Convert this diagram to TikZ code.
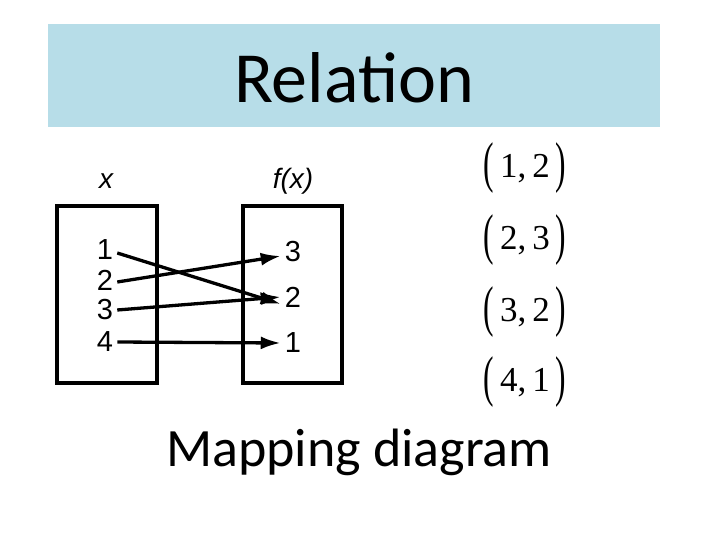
\documentclass[tikz,border=0pt]{standalone}
\usepackage{fontspec}
\usepackage{graphicx}
\setmainfont{Carlito}
\newfontfamily\pairfont{Liberation Serif}
\newfontfamily\mapfont{Liberation Sans}
\usetikzlibrary{arrows.meta}
\definecolor{headblue}{RGB}{183,221,232}
\newcommand{\bigpar}[1]{\raisebox{-3.5pt}{\scalebox{0.9}[1.6]{#1}}}
\newcommand{\pairtext}[2]{\bigpar{(}\,#1,\,#2\,\bigpar{)}}
\tikzset{
  setbox/.style={draw, line width=4pt},
  num/.style={font=\mapfont\fontsize{29}{29}\selectfont, inner sep=4pt},
  maparrow/.style={line width=3.3pt, -{Latex[length=20pt,width=13pt]}},
}
\begin{document}
\begin{tikzpicture}[x=1pt, y=-1pt]
    \useasboundingbox (0,0) rectangle (720,540);
    % Title bar
    \fill[headblue] (48,24) rectangle (660,127);
    \node[font=\fontsize{72}{72}\selectfont] (title) at (354,78) {Relation};

    % Left: the two sets
    \draw[setbox] (57,206) rectangle (157,383);
    \draw[setbox] (243,206) rectangle (342,383);
    \node[font=\mapfont\itshape\fontsize{28}{28}\selectfont] (xlab) at (106,181) {x};
    \node[font=\mapfont\itshape\fontsize{28}{28}\selectfont] (fxlab) at (293,181) {f(x)};
    \foreach \n/\y in {1/250, 2/280, 3/310, 4/342} {
        \node[num] (l\n) at (105,\y) {\n};
    }
    \foreach \n/\y in {3/252, 2/297, 1/343} {
        \node[num] (r\n) at (293,\y) {\n};
    }
    \draw[maparrow] ([yshift=-3pt]l1.east) -- ([yshift=-7pt]r2.west);
    \draw[maparrow] ([yshift=-2pt]l2.east) -- ([yshift=-4pt]r3.west);
    \draw[maparrow] (l3.east) -- ([yshift=0pt]r2.west);
    \draw[maparrow] (l4.east) -- (r1.west);

    % Right: ordered pairs
    \foreach \a/\b/\y in {1/2/168, 2/3/240, 3/2/312, 4/1/382} {
        \node[font=\pairfont\fontsize{35}{35}\selectfont] (p\a) at (525,\y) {\pairtext{\a}{\b}};
    }
    \node[font=\fontsize{54}{54}\selectfont] (maplab) at (359,452) {Mapping diagram};
\end{tikzpicture}
\end{document}
